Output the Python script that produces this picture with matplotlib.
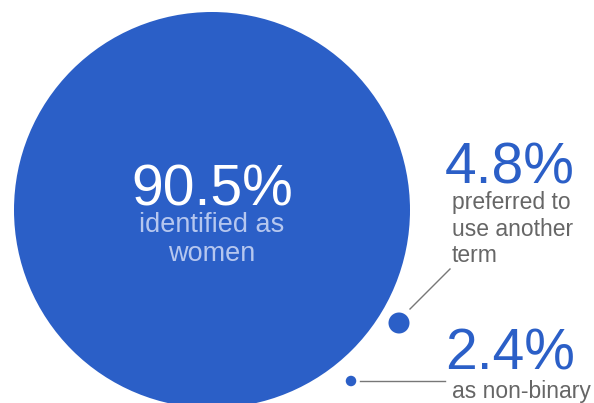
import matplotlib.pyplot as plt
from matplotlib.patches import Circle

# data
valori = [90.5, 4.8, 2.4]
etichete = ['90.5%', '4.8%', '2.4%']
descrieri = ['identified as\nwomen', 'preferred to\nuse another\nterm', 'as non-binary']

albastru = '#2b5fc7'
gri = '#666666'
plt.rcParams['font.family'] = ['Liberation Sans', 'DejaVu Sans']

fig = plt.figure(figsize=(5.94, 4.03), dpi=100)
ax = fig.add_axes([0, 0, 1, 1])
ax.set_xlim(0, 594)
ax.set_ylim(403, 0)
ax.set_aspect('equal')
ax.axis('off')

# raza proportionala cu valoarea
scala = 198 / valori[0]
centre = [(212, 210), (399, 323), (351, 381)]
for (cx, cy), v in zip(centre, valori):
    ax.add_patch(Circle((cx, cy), v * scala, color=albastru, lw=0))

# linii de legatura
ax.plot([410, 450], [309, 269], color='#777777', lw=1)
ax.plot([360, 445], [381, 381], color='#777777', lw=1)

# cercul mare
ax.text(212, 205, etichete[0], color='white', fontsize=41, ha='center', va='baseline')
ax.text(212, 212, descrieri[0], color='#b6c7ef', fontsize=19.5, ha='center', va='top',
        linespacing=1.15)

# etichete din dreapta
ax.text(445, 184, etichete[1], color=albastru, fontsize=41, ha='left', va='baseline')
ax.text(452, 191, descrieri[1], color=gri, fontsize=16.5, ha='left', va='top',
        linespacing=1.2)
ax.text(445, 370, etichete[2], color=albastru, fontsize=41, ha='left', va='baseline')
ax.text(452, 380, descrieri[2], color=gri, fontsize=16.5, ha='left', va='top')

fig.savefig('out.png', dpi=100)
